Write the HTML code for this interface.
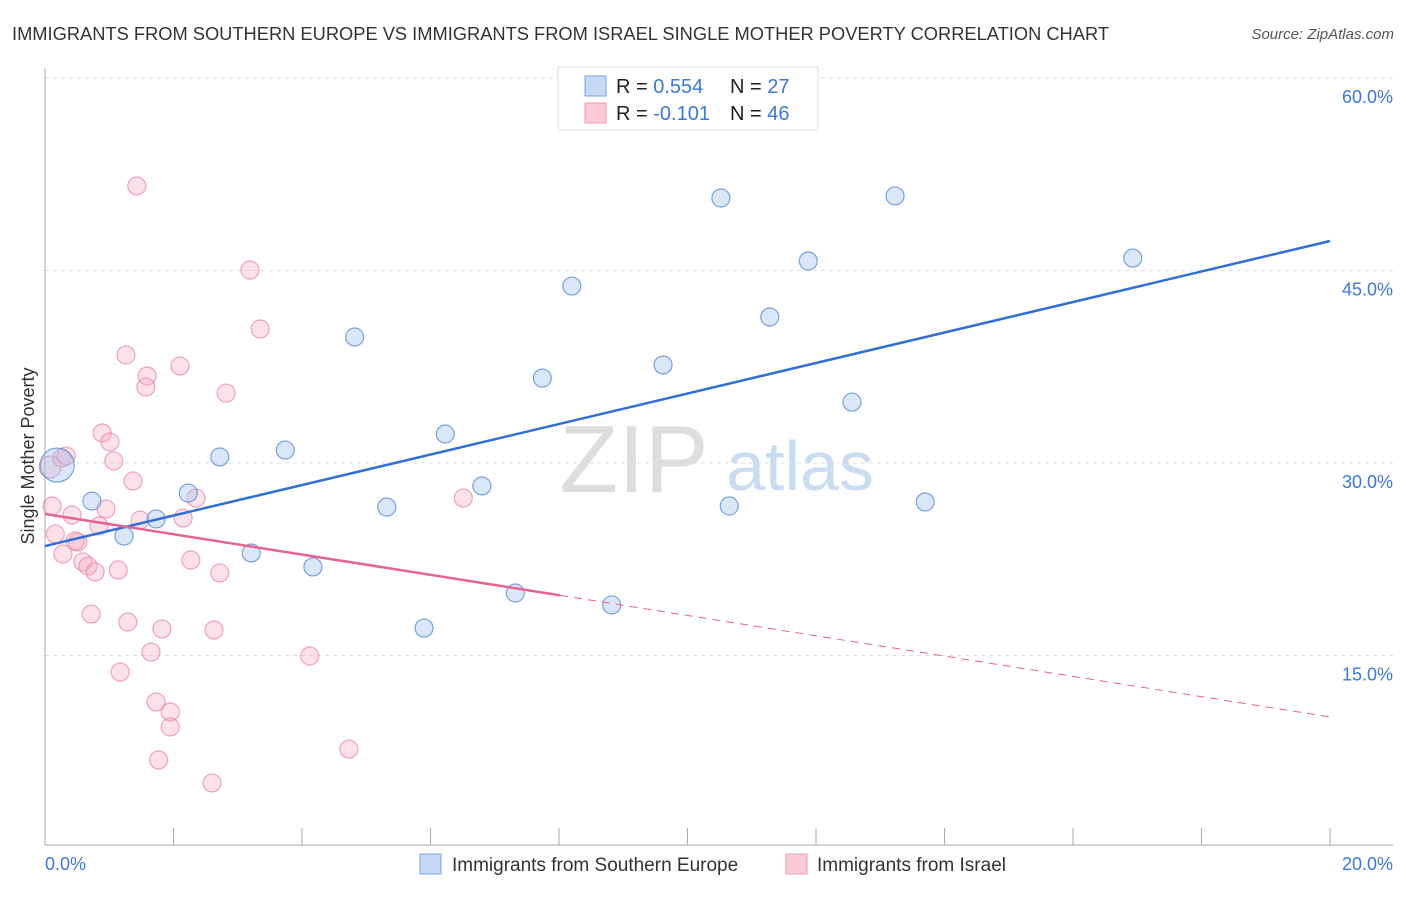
<!DOCTYPE html>
<html><head><meta charset="utf-8"><style>
body{margin:0;background:#fff;font-family:"Liberation Sans",sans-serif}
svg text{font-family:"Liberation Sans",sans-serif}
</style></head><body>
<svg id="c" width="1406" height="892" xmlns="http://www.w3.org/2000/svg">
<text x="12" y="40" font-size="18.3" fill="#333">IMMIGRANTS FROM SOUTHERN EUROPE VS IMMIGRANTS FROM ISRAEL SINGLE MOTHER POVERTY CORRELATION CHART</text>
<text x="1394" y="39" font-size="15" fill="#555" font-style="italic" text-anchor="end">Source: ZipAtlas.com</text>
<text x="634" y="492" font-size="96" fill="#ddd" font-family="Liberation Serif,serif" text-anchor="middle">ZIP</text>
<text x="800" y="490" font-size="70" fill="#c9dcf3" text-anchor="middle">atlas</text>
<g id="grid"></g>
<g id="axes"></g>
<g id="pts"></g>
<g id="lines"></g>
<text transform="translate(34,456) rotate(-90)" font-size="18" fill="#333" text-anchor="middle">Single Mother Poverty</text>
<text x="45" y="870" font-size="18" fill="#3b78d8">0.0%</text>
<text x="1393" y="870" font-size="18" fill="#3b78d8" text-anchor="end">20.0%</text>
<g>
<rect x="558" y="67" width="260" height="63" fill="#fff" stroke="#ddd"/>
<rect x="585" y="76" width="21" height="20" fill="#c5d9f5" stroke="#7aa5e6"/>
<rect x="585" y="103" width="21" height="20" fill="#fbcbd7" stroke="#ee9ab0"/>
<text x="616" y="93" font-size="20" fill="#222">R = <tspan fill="#3b78d8">0.554</tspan></text>
<text x="730" y="93" font-size="20" fill="#222">N = <tspan fill="#3b78d8">27</tspan></text>
<text x="616" y="120" font-size="20" fill="#222">R = <tspan fill="#3b78d8">-0.101</tspan></text>
<text x="730" y="120" font-size="20" fill="#222">N = <tspan fill="#3b78d8">46</tspan></text>
</g>
<g>
<rect x="420" y="854" width="21" height="20" fill="#c5d9f5" stroke="#7aa5e6"/>
<text x="452" y="871" font-size="19" fill="#333">Immigrants from Southern Europe</text>
<rect x="786" y="854" width="21" height="20" fill="#fbcbd7" stroke="#ee9ab0"/>
<text x="817" y="871" font-size="19" fill="#333">Immigrants from Israel</text>
</g>
</svg>
<script>
const yTicks=[15,30,45,60];
const xTicks=[0,2,4,6,8,10,12,14,16,18,20];
const blueX=[0.19,0.73,1.23,1.73,2.23,2.72,3.21,3.74,4.17,4.82,5.32,5.90,6.23,6.80,7.32,7.74,8.20,8.82,9.62,10.52,10.65,11.28,11.88,12.56,13.23,13.70,16.93];
const blueY=[29.84,27.03,24.31,25.64,27.66,30.47,22.99,31.01,21.90,39.82,26.57,17.14,32.26,28.21,19.87,36.62,43.79,18.94,37.64,50.65,26.65,41.38,45.74,34.75,50.81,26.96,45.97];
const pinkX=[0.11,0.08,0.26,0.33,0.16,0.28,0.42,0.51,0.47,0.59,0.67,0.78,0.72,0.84,0.89,0.95,1.01,1.07,1.14,1.26,1.29,1.17,1.37,1.43,1.48,1.59,1.57,1.65,1.73,1.77,1.82,1.95,1.95,2.10,2.15,2.27,2.35,2.60,2.63,2.72,2.82,3.19,3.35,4.12,4.73,6.51];
const pinkY=[26.65,29.69,30.39,30.55,24.47,22.91,25.95,23.84,23.92,22.29,21.97,21.51,18.23,25.09,32.34,26.42,31.64,30.16,21.66,38.42,17.61,13.71,28.60,51.59,25.56,36.78,35.92,15.27,11.38,6.86,17.07,10.60,9.43,37.56,25.71,22.44,27.27,5.07,16.99,21.43,35.45,45.04,40.44,14.96,7.71,27.27];
const blueTrend=[23.53,47.30];
const pinkTrend=[26.03,10.21];
const pinkSolidEnd=8.02;
const NS='http://www.w3.org/2000/svg';
const xs=v=>45+v*64.25, ys=v=>848-v*12.833;
function mk(tag,attrs,parent){const e=document.createElementNS(NS,tag);for(const k in attrs)e.setAttribute(k,attrs[k]);parent.appendChild(e);return e;}
const grid=document.getElementById('grid'),axes=document.getElementById('axes'),pts=document.getElementById('pts'),lines=document.getElementById('lines');
yTicks.forEach(t=>{
 const l=mk('line',{x1:45,x2:1393,y1:ys(t),y2:ys(t),stroke:'#ddd','stroke-dasharray':'4,4'},grid);
 
 
 const tx=mk('text',{x:1393,y:ys(t)+25,'font-size':18,fill:'#3b78d8','text-anchor':'end'},grid);
 tx.textContent=t.toFixed(1)+'%';
 
 
});
const ya=mk('line',{x1:45,x2:45,y1:68,y2:845,stroke:'#aaa'},axes);


const xa=mk('line',{x1:45,x2:1393,y1:845,y2:845,stroke:'#aaa'},axes);


xTicks.forEach(t=>{
 const l=mk('line',{x1:xs(t),x2:xs(t),y1:828,y2:845,stroke:'#aaa'},axes);
 
 
});
pinkX.forEach((x,i)=>{
 const c=mk('circle',{cx:xs(x),cy:ys(pinkY[i]),r:i==1?11:9,fill:'rgba(246,170,192,0.35)',stroke:'rgba(232,128,158,0.7)','stroke-width':1.2},pts);
 
 
});
blueX.forEach((x,i)=>{
 const c=mk('circle',{cx:xs(x),cy:ys(blueY[i]),r:i==0?17:9,fill:'rgba(160,195,240,0.4)',stroke:'rgba(90,140,215,0.8)','stroke-width':1.2},pts);
 
 
});
const bl=mk('line',{x1:xs(0),y1:ys(blueTrend[0]),x2:xs(20),y2:ys(blueTrend[1]),stroke:'#2f6fd6','stroke-width':2.5},lines);


const pv=x=>pinkTrend[0]+(pinkTrend[1]-pinkTrend[0])*x/20;
const ps=mk('line',{x1:xs(0),y1:ys(pv(0)),x2:xs(pinkSolidEnd),y2:ys(pv(pinkSolidEnd)),stroke:'#e6648f','stroke-width':2.5},lines);


const pd=mk('line',{x1:xs(pinkSolidEnd),y1:ys(pv(pinkSolidEnd)),x2:xs(20),y2:ys(pv(20)),stroke:'#e6648f','stroke-width':1,'stroke-dasharray':'8,6'},lines);


</script>
</body></html>
